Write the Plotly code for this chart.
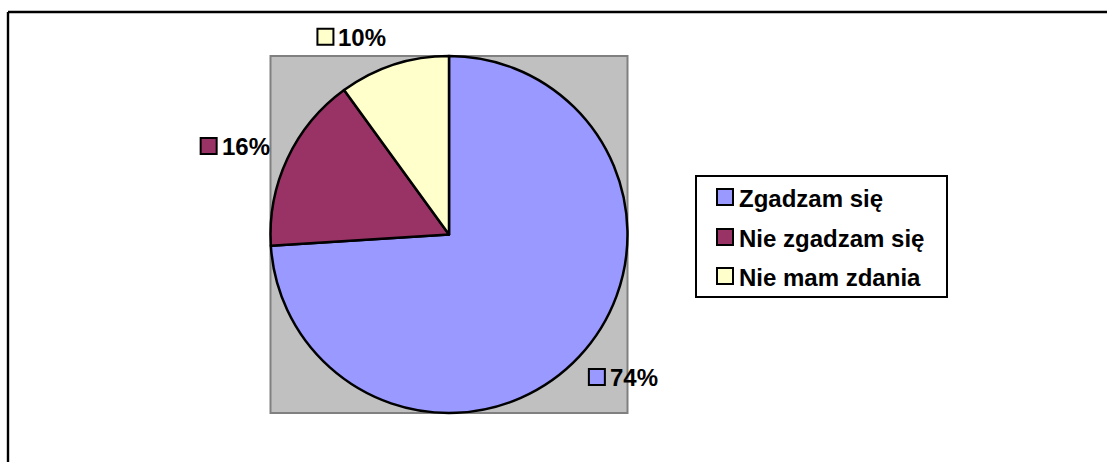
import math
import plotly.graph_objects as go

categories = ["Zgadzam się", "Nie zgadzam się", "Nie mam zdania"]
values = [74, 16, 10]
colors = ["#9999FF", "#993366", "#FFFFCC"]

W, H = 1107, 462
FONT = "Liberation Sans, Arial, sans-serif"

# pie geometry in pixels
cx, cy, r = 449, 234.5, 178.5


def px(x):
    return x / W


def py(y):
    return 1 - y / H


fig = go.Figure()
fig.add_trace(go.Pie(
    labels=categories,
    values=values,
    sort=False,
    direction="clockwise",
    rotation=0,
    marker=dict(colors=colors, line=dict(color="black", width=2.5)),
    textinfo="none",
    hoverinfo="label+percent",
    showlegend=False,
    domain=dict(x=[px(cx - r), px(cx + r)], y=[py(cy + r), py(cy - r)]),
))

shapes = []
annotations = []

# frame (top and left edges visible)
shapes.append(dict(type="line", xref="paper", yref="paper", x0=px(8), x1=1.02,
                   y0=py(12), y1=py(12), line=dict(color="black", width=2.4)))
shapes.append(dict(type="line", xref="paper", yref="paper", x0=px(8), x1=px(8),
                   y0=py(12), y1=-0.02, line=dict(color="black", width=2.4)))

# gray plot area
shapes.append(dict(type="rect", xref="paper", yref="paper", layer="below",
                   x0=px(cx - r), x1=px(cx + r), y0=py(cy + r), y1=py(cy - r),
                   fillcolor="#C0C0C0", line=dict(color="#808080", width=2)))

# data labels
total = sum(values)
cum = 0
d = 196
box_w = 71
for v, c in zip(values, colors):
    mid = (cum + v / 2) / total * 2 * math.pi
    cum += v
    sx, sy = math.sin(mid), -math.cos(mid)
    Px, Py = cx + d * sx, cy + d * sy
    left = Px - 3 if sx >= 0 else Px - box_w
    ymid = Py + 12 * sy
    shapes.append(dict(type="rect", xref="paper", yref="paper",
                       x0=px(left), x1=px(left + 16), y0=py(ymid + 8), y1=py(ymid - 8),
                       fillcolor=c, line=dict(color="black", width=2)))
    annotations.append(dict(xref="paper", yref="paper", x=px(left + 19), y=py(ymid + 1),
                            xanchor="left", yanchor="middle", showarrow=False,
                            text=f"<b>{v}%</b>",
                            font=dict(family=FONT, size=24, color="black")))

# manual legend
lx0, lx1, ly0, ly1 = 696, 947, 176, 297
shapes.append(dict(type="rect", xref="paper", yref="paper",
                   x0=px(lx0), x1=px(lx1), y0=py(ly1), y1=py(ly0),
                   fillcolor="white", line=dict(color="black", width=2)))
row_y = [197, 237, 276]
for cat, c, yy in zip(categories, colors, row_y):
    shapes.append(dict(type="rect", xref="paper", yref="paper",
                       x0=px(717), x1=px(733), y0=py(yy + 8), y1=py(yy - 8),
                       fillcolor=c, line=dict(color="black", width=2)))
    annotations.append(dict(xref="paper", yref="paper", x=px(737), y=py(yy + 1),
                            xanchor="left", yanchor="middle", showarrow=False,
                            text=f"<b>{cat}</b>",
                            font=dict(family=FONT, size=24, color="black")))

fig.update_layout(
    width=W, height=H,
    margin=dict(l=0, r=0, t=0, b=0),
    paper_bgcolor="white",
    plot_bgcolor="white",
    shapes=shapes,
    annotations=annotations,
    font=dict(family=FONT),
)

fig.write_html("out.html", config={"displayModeBar": False},
               post_script="document.body.style.margin='0';")
